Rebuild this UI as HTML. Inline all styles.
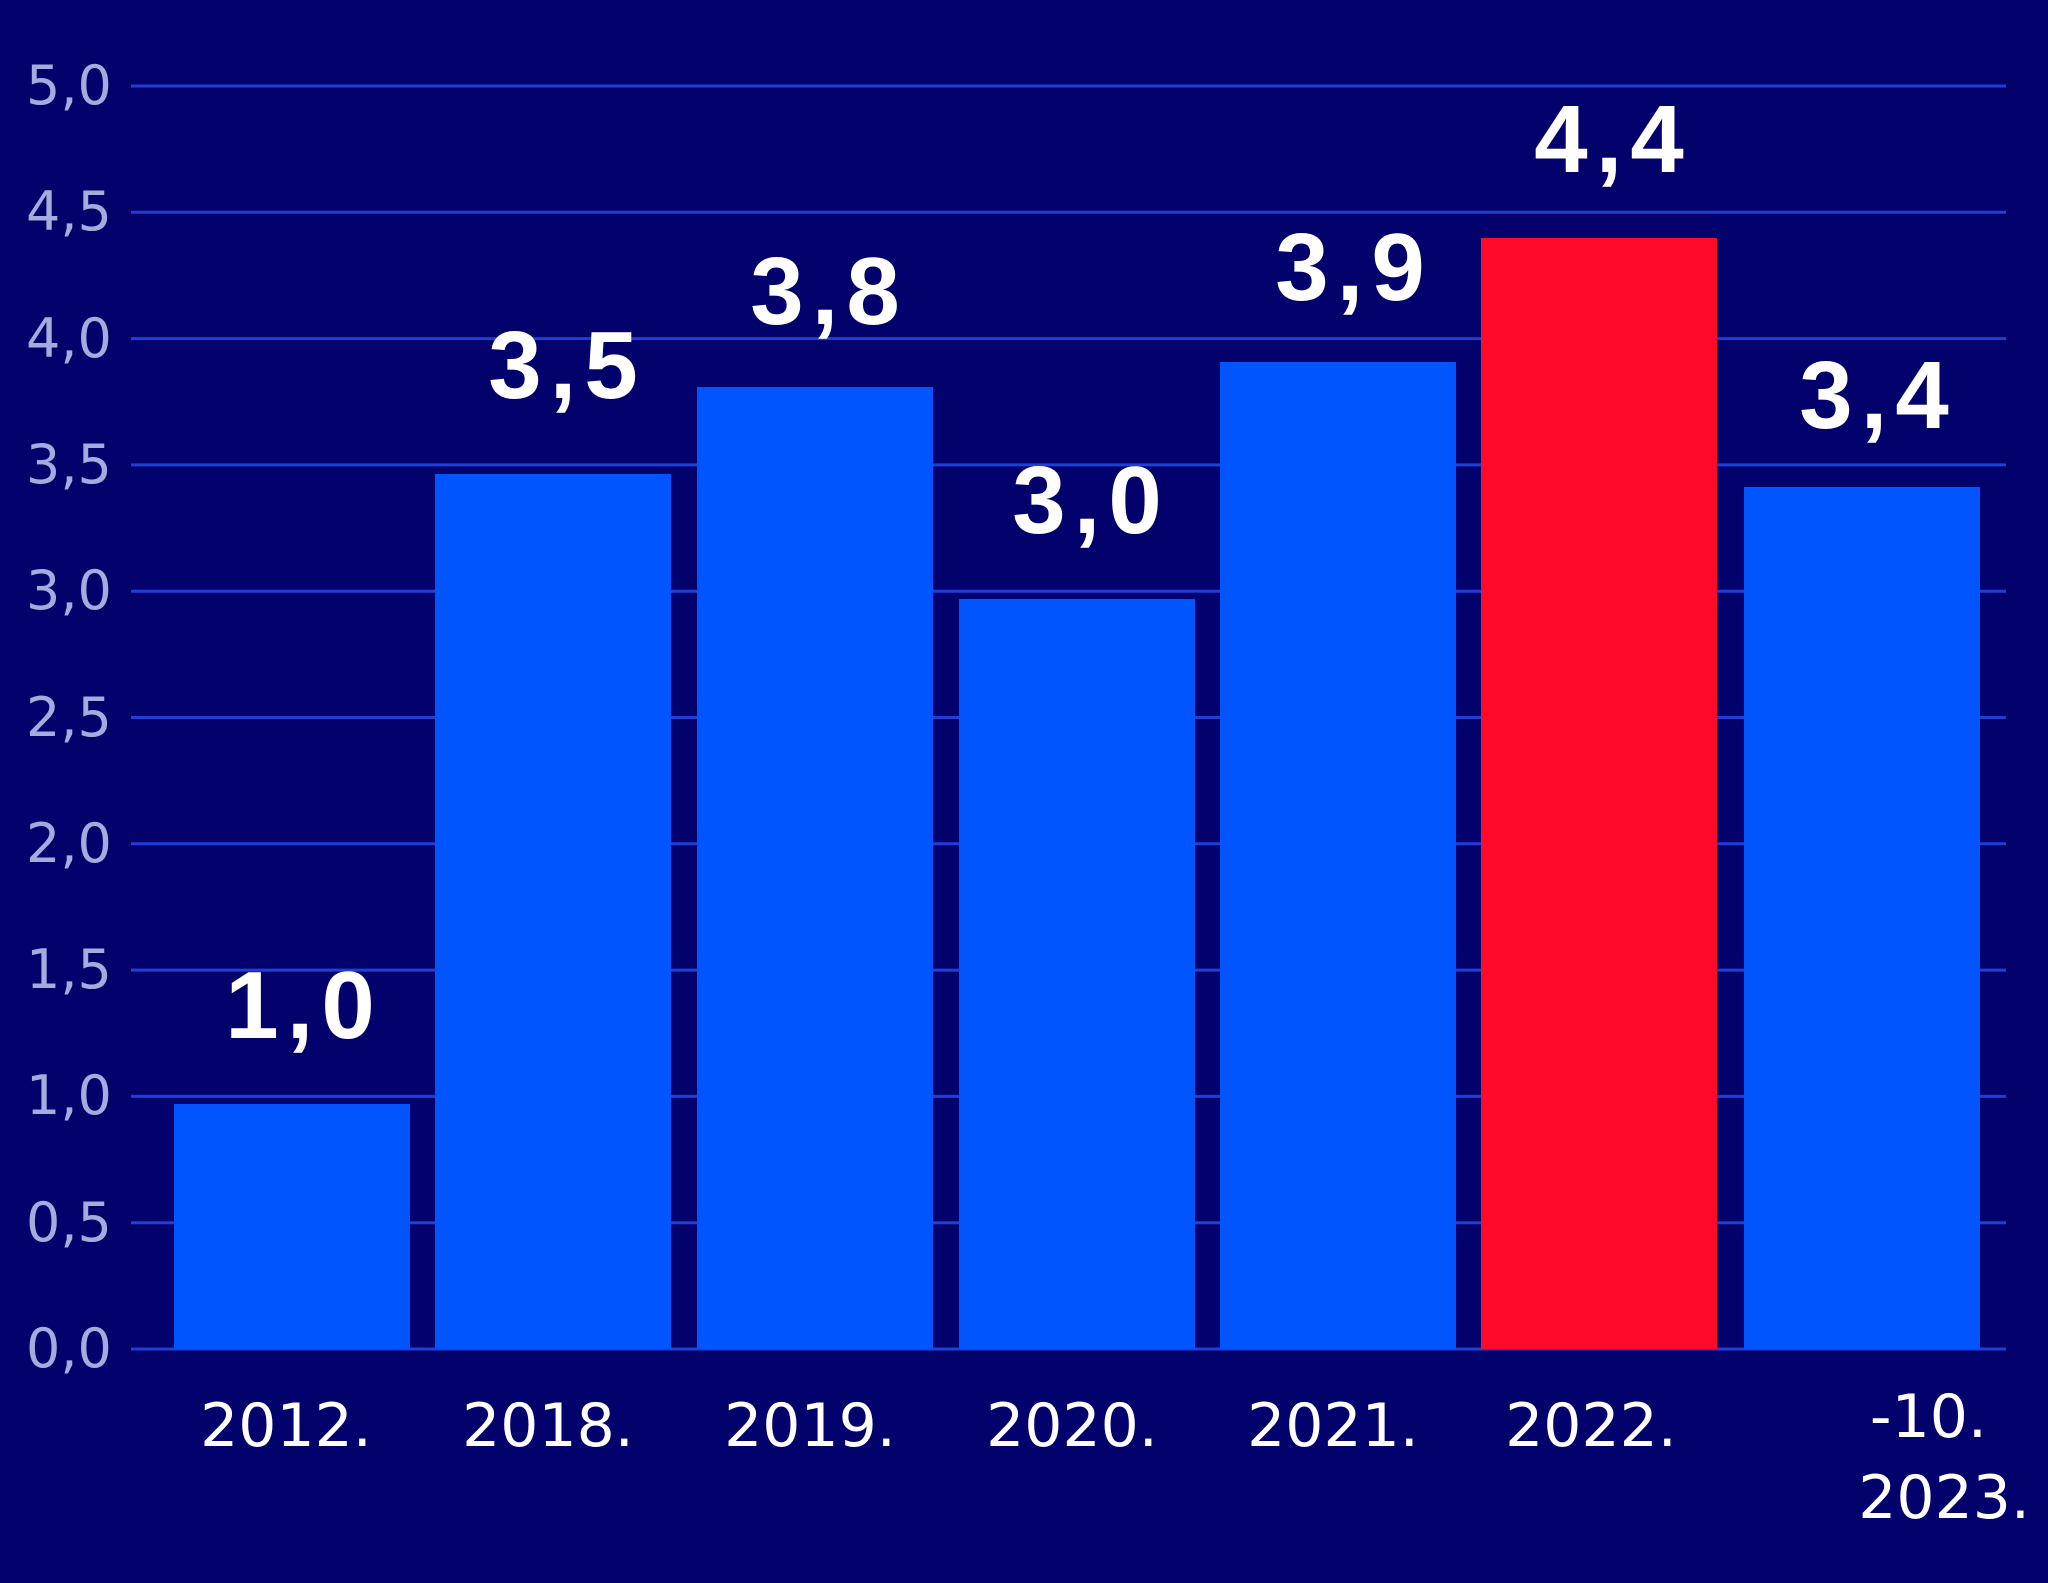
<!DOCTYPE html>
<html><head><style>
html,body{margin:0;padding:0;background:#03016b;}
svg{display:block;}
</style></head><body>
<svg width="2048" height="1583" viewBox="0 0 2048 1583" xmlns="http://www.w3.org/2000/svg">
<rect width="2048" height="1583" fill="#03016b"/>
<g stroke="#1f3fd6" stroke-width="3">
<line x1="131" x2="2006" y1="86" y2="86"/>
<line x1="131" x2="2006" y1="212.3" y2="212.3"/>
<line x1="131" x2="2006" y1="338.6" y2="338.6"/>
<line x1="131" x2="2006" y1="464.9" y2="464.9"/>
<line x1="131" x2="2006" y1="591.2" y2="591.2"/>
<line x1="131" x2="2006" y1="717.5" y2="717.5"/>
<line x1="131" x2="2006" y1="843.8" y2="843.8"/>
<line x1="131" x2="2006" y1="970.1" y2="970.1"/>
<line x1="131" x2="2006" y1="1096.4" y2="1096.4"/>
<line x1="131" x2="2006" y1="1222.7" y2="1222.7"/>
<line x1="131" x2="2006" y1="1349" y2="1349"/>
</g>
<g font-family="DejaVu Sans, sans-serif" font-size="54" fill="#a3acdc">
<text x="26" y="104">5,0</text>
<text x="26" y="230">4,5</text>
<text x="26" y="357">4,0</text>
<text x="26" y="483">3,5</text>
<text x="26" y="609">3,0</text>
<text x="26" y="736">2,5</text>
<text x="26" y="862">2,0</text>
<text x="26" y="988">1,5</text>
<text x="26" y="1114">1,0</text>
<text x="26" y="1241">0,5</text>
<text x="26" y="1367">0,0</text>
</g>
<g fill="#0055ff">
<rect x="174" y="1104" width="236" height="245"/>
<rect x="435" y="474" width="236" height="875"/>
<rect x="697" y="387" width="236" height="962"/>
<rect x="959" y="599" width="236" height="750"/>
<rect x="1220" y="362" width="236" height="987"/>
<rect x="1744" y="487" width="236" height="862"/>
</g>
<rect x="1481" y="238" width="236" height="1111" fill="#ff0a2a"/>
<g font-family="Liberation Sans, sans-serif" font-size="96" font-weight="bold" fill="#ffffff" text-anchor="middle" letter-spacing="8">
<text x="304" y="1038">1,0</text>
<text x="567" y="398">3,5</text>
<text x="829" y="324">3,8</text>
<text x="1091" y="533">3,0</text>
<text x="1354" y="300">3,9</text>
<text x="1613" y="172">4,4</text>
<text x="1878" y="428">3,4</text>
</g>
<g font-family="DejaVu Sans, sans-serif" font-size="60" fill="#ffffff" text-anchor="middle">
<text x="286" y="1446">2012.</text>
<text x="548" y="1446">2018.</text>
<text x="810" y="1446">2019.</text>
<text x="1072" y="1446">2020.</text>
<text x="1333" y="1446">2021.</text>
<text x="1591" y="1446">2022.</text>
<text x="1987" y="1437" text-anchor="end">-10.</text>
<text x="2030" y="1518" text-anchor="end">2023.</text>
</g>
</svg>
</body></html>
